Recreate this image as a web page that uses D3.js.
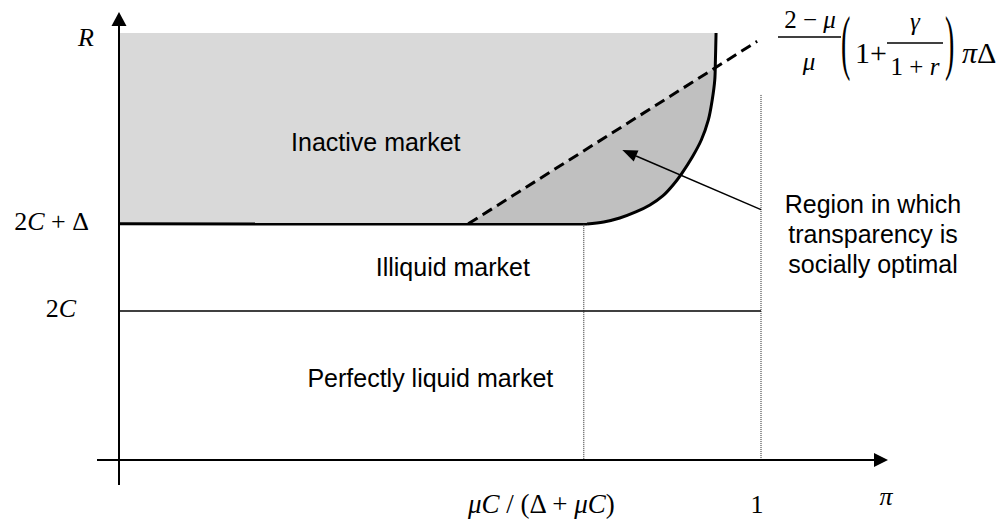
<!DOCTYPE html>
<html><head><meta charset="utf-8">
<script src="https://cdn.jsdelivr.net/npm/d3@7"></script>
<style>
html,body{margin:0;padding:0;background:#fff;}
svg{display:block;}
.sans{font-family:"Liberation Sans",Arial,sans-serif;fill:#000;}
.serif{font-family:"Liberation Serif","Times New Roman",serif;fill:#000;}
</style>
</head><body>
<script>
// ---------------- data ----------------
const C2 = 2;                 // level 2C
const C2D = 3.17;             // level 2C + Δ
const Rtop = 5.73;            // top of the inactive region
const piHat = 0.724;          // μC / (Δ + μC)
const piOne = 1;              // π = 1
// boundary curve between illiquid and inactive markets (π, R)
const curvePi = [0.729, 0.755, 0.780, 0.805, 0.827, 0.847, 0.863, 0.877, 0.893, 0.907, 0.918, 0.924, 0.928, 0.929, 0.930];
const curveR  = [3.168, 3.195, 3.248, 3.329, 3.423, 3.544, 3.691, 3.852, 4.067, 4.295, 4.564, 4.832, 5.101, 5.369, 5.732];
// dashed line  (2-μ)/μ (1+γ/(1+r)) πΔ
const dashPi = [0.544, 0.994];
const dashR  = [3.17, 5.62];
// dotted line at π = 1 top
const dotTopR = 4.90;
// annotation arrow (from, to) in (π, R)
const arrowPi = [1.0, 0.784];
const arrowR  = [3.36, 4.16];
// region labels
const regionLabels = ["Inactive market", "Illiquid market", "Perfectly liquid market"];
const regionLabelPi = [0.4, 0.52, 0.485];
const regionLabelR  = [4.15, 2.47, 0.98];
const noteLines = ["Region in which", "transparency is", "socially optimal"];

// ---------------- setup ----------------
const W = 999, H = 529;
const svg = d3.select("body").append("svg").attr("width", W).attr("height", H);
const x = d3.scaleLinear().domain([0, 1]).range([119, 761]);
const y = d3.scaleLinear().domain([0, 2]).range([460, 311]);

const curvePts = curvePi.map((p, i) => [x(p), y(curveR[i])]);
const lineGen = d3.line().curve(d3.curveCatmullRom.alpha(0.5));

// light region
const rev = curvePts.slice().reverse();
const lightD = `M${x(0)},${y(Rtop)}` + lineGen(rev).replace(/^M/, "L") + `L${x(0)},${y(C2D)}Z`;
svg.append("path").attr("d", lightD).attr("fill", "#d9d9d9");

// darker region: clip light region to below dashed line
const dx0 = x(dashPi[0]), dy0 = y(dashR[0]), dx1 = x(dashPi[1]), dy1 = y(dashR[1]);
const slope = (dy1 - dy0) / (dx1 - dx0);
const ext = 1200;
svg.append("clipPath").attr("id", "below")
  .append("path")
  .attr("d", `M${dx0},${dy0}L${ext},${dy0 + slope * (ext - dx0)}L${ext},${H}L${dx0},${H}Z`);
svg.append("path").attr("d", lightD).attr("fill", "#c0c0c0").attr("clip-path", "url(#below)");

// dashed line
svg.append("line")
  .attr("x1", dx0).attr("y1", dy0).attr("x2", dx1).attr("y2", dy1)
  .attr("stroke", "#000").attr("stroke-width", 3).attr("stroke-dasharray", "11,6");

// thick boundary
svg.append("path").attr("d", `M${x(0)},${y(C2D)}L${curvePts[0][0]},${curvePts[0][1]}`)
  .attr("fill", "none").attr("stroke", "#000").attr("stroke-width", 3);
svg.append("path").attr("d", lineGen(curvePts))
  .attr("fill", "none").attr("stroke", "#000").attr("stroke-width", 3);

// 2C line
svg.append("line").attr("x1", x(0)).attr("x2", x(piOne)).attr("y1", y(C2)).attr("y2", y(C2))
  .attr("stroke", "#000").attr("stroke-width", 1.5);

// dotted verticals
svg.append("line").attr("x1", x(piHat)).attr("x2", x(piHat)).attr("y1", y(C2D)).attr("y2", y(0))
  .attr("stroke", "#222").attr("stroke-width", 1).attr("stroke-dasharray", "1,1");
svg.append("line").attr("x1", x(piOne)).attr("x2", x(piOne)).attr("y1", y(dotTopR)).attr("y2", y(0))
  .attr("stroke", "#222").attr("stroke-width", 1).attr("stroke-dasharray", "1,1");

// axes
const ax = 119, ay = 460;
svg.append("line").attr("x1", ax).attr("x2", ax).attr("y1", 485).attr("y2", 22).attr("stroke", "#000").attr("stroke-width", 2);
svg.append("path").attr("d", `M${ax},12L${ax - 7.5},26L${ax + 7.5},26Z`).attr("fill", "#000");
svg.append("line").attr("x1", 97).attr("x2", 878).attr("y1", ay).attr("y2", ay).attr("stroke", "#000").attr("stroke-width", 2);
svg.append("path").attr("d", `M888,${ay}L874,${ay - 7}L874,${ay + 7}Z`).attr("fill", "#000");

// annotation arrow
const ax0 = x(arrowPi[0]), ay0 = y(arrowR[0]), ax1 = x(arrowPi[1]), ay1 = y(arrowR[1]);
const ang = Math.atan2(ay1 - ay0, ax1 - ax0);
const hl = 15, hw = 6;
const bx = ax1 - hl * Math.cos(ang), by = ay1 - hl * Math.sin(ang);
svg.append("line").attr("x1", ax0).attr("y1", ay0).attr("x2", bx).attr("y2", by)
  .attr("stroke", "#000").attr("stroke-width", 1.5);
svg.append("path").attr("d",
  `M${ax1},${ay1}L${bx + hw * Math.sin(ang)},${by - hw * Math.cos(ang)}L${bx - hw * Math.sin(ang)},${by + hw * Math.cos(ang)}Z`)
  .attr("fill", "#000");

// region labels
regionLabels.forEach((t, i) => {
  svg.append("text").attr("class", "sans").attr("x", x(regionLabelPi[i])).attr("y", y(regionLabelR[i]))
    .attr("text-anchor", "middle").attr("font-size", 25).text(t);
});
noteLines.forEach((t, i) => {
  svg.append("text").attr("class", "sans").attr("x", 873).attr("y", 213 + i * 30)
    .attr("text-anchor", "middle").attr("font-size", 25).text(t);
});

// math helper: segments [text, italic]
function mathText(px, py, segs, size, anchor) {
  const t = svg.append("text").attr("class", "serif").attr("x", px).attr("y", py)
    .attr("font-size", size).attr("text-anchor", anchor || "start");
  segs.forEach(s => t.append("tspan").attr("font-style", s[1] ? "italic" : "normal").text(s[0]));
  return t;
}

// axis labels
mathText(94, 46, [["R", true]], 26, "end");
mathText(89, 230, [["2", false], ["C", true], [" + Δ", false]], 26, "end");
mathText(76, 317, [["2", false], ["C", true]], 26, "end");
mathText(468, 513, [["μC", true], [" / (Δ + ", false], ["μC", true], [")", false]], 27, "start");
mathText(757, 513, [["1", false]], 26, "middle");
mathText(886, 505, [["π", true]], 26, "middle");

// formula
mathText(810, 28, [["2 − ", false], ["μ", true]], 25, "middle");
svg.append("line").attr("x1", 778).attr("x2", 841).attr("y1", 37).attr("y2", 37).attr("stroke", "#000").attr("stroke-width", 1.3);
mathText(809, 70, [["μ", true]], 25, "middle");
svg.append("text").attr("class", "serif").attr("font-size", 28)
  .attr("transform", "translate(841,66) scale(1,2.6)").text("(");
mathText(855, 63, [["1+", false]], 30, "start");
mathText(915, 30, [["γ", true]], 25, "middle");
svg.append("line").attr("x1", 887).attr("x2", 943).attr("y1", 43).attr("y2", 43).attr("stroke", "#000").attr("stroke-width", 1.3);
mathText(915, 75, [["1 + ", false], ["r", true]], 25, "middle");
svg.append("text").attr("class", "serif").attr("font-size", 28)
  .attr("transform", "translate(945,66) scale(1,2.6)").text(")");
mathText(962, 63, [["π", true], ["Δ", false]], 30, "start");
</script>
</body></html>
